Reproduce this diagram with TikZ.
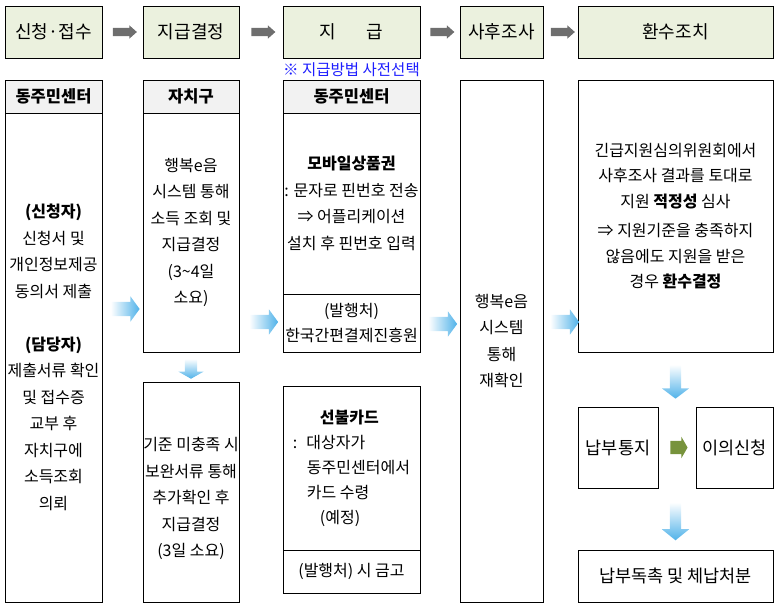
\documentclass[tikz,border=0pt]{standalone}
\usepackage{fontspec}
\setmainfont{Noto Sans CJK KR}
\usetikzlibrary{positioning}
\usetikzlibrary{calc}
\usetikzlibrary{shapes.arrows}
\definecolor{mstep}{RGB}{235,241,222}
\definecolor{mhead}{RGB}{242,242,242}
\definecolor{mgray}{RGB}{110,110,110}
\definecolor{mblue}{RGB}{80,178,233}
\definecolor{mgreen}{RGB}{119,147,60}
\definecolor{mnote}{RGB}{30,30,255}

\begin{document}
\begin{tikzpicture}[x=1pt, y=-1pt,
    box/.style={draw, line width=0.9pt, inner sep=0pt, outer sep=0pt, align=center, font=\fontsize{16}{26.5}\selectfont},
    stepbox/.style={box, fill=mstep, minimum height=52pt, font=\fontsize{18}{22}\selectfont},
    headbox/.style={box, fill=mhead, minimum height=33pt, font=\bfseries\fontsize{16.5}{20}\selectfont},
    grayarrow/.style={single arrow, fill=mgray, inner sep=4pt, minimum height=24pt, single arrow head extend=2.5pt, single arrow tip angle=83},
    bluearrow/.style={single arrow, inner sep=7pt, left color=white, right color=mblue, minimum height=29pt, single arrow head extend=5.5pt, single arrow tip angle=108},
    downarrow/.style={single arrow, shape border rotate=270, inner sep=5.5pt, top color=white, bottom color=mblue, single arrow head extend=8pt, single arrow tip angle=106},
    greenarrow/.style={single arrow, fill=mgreen, inner sep=6.5pt, minimum height=12pt, single arrow head extend=4pt, single arrow tip angle=120},
]
\useasboundingbox (0,0) rectangle (780,610);

% process steps
\node[stepbox, minimum width=97pt] (step1) at (53.5,32) {신청·접수};
\node[stepbox, minimum width=96pt] (step2) at (191,32) {지급결정};
\node[stepbox, minimum width=137pt] (step3) at (351.5,32) {지\hspace{30pt}급};
\node[stepbox, minimum width=83pt] (step4) at (501.5,32) {사후조사};
\node[stepbox, minimum width=195pt] (step5) at (675.5,32) {환수조치};

\node[grayarrow] (flow1) at ($(step1.east)!0.5!(step2.west)$) {};
\node[grayarrow] (flow2) at ($(step2.east)!0.5!(step3.west)$) {};
\node[grayarrow] (flow3) at ($(step3.east)!0.5!(step4.west)$) {};
\node[grayarrow] (flow4) at ($(step4.east)!0.5!(step5.west)$) {};

\node[text=mnote, font=\fontsize{15.5}{18}\selectfont] (note3) at (351.5,70) {※ 지급방법 사전선택};

% column 1
\node[headbox, minimum width=97pt] (head1) at (53.5,96.5) {동주민센터};
\node[box, below=0pt of head1, minimum width=97pt, minimum height=489pt] (apply1) {\textbf{(신청자)}\\신청서 및\\개인정보제공\\동의서 제출\\[26.5pt]\textbf{(담당자)}\\제출서류 확인\\및 접수증\\교부 후\\자치구에\\소득조회\\의뢰};

% column 2
\node[headbox, minimum width=96pt] (head2) at (191,96.5) {자치구};
\node[box, below=0pt of head2, minimum width=96pt, minimum height=239pt] (decide2) {행복e음\\시스템 통해\\소득 조회 및\\지급결정\\(3\textasciitilde 4일\\소요)};
\node[box, minimum width=96pt, minimum height=220pt] (extra2) at (191,492) {\mbox{}\\기준 미충족 시\\보완서류 통해\\추가확인 후\\지급결정\\(3일 소요)};

% column 3
\node[headbox, minimum width=137pt] (head3) at (351.5,96.5) {동주민센터};
\node[box, below=0pt of head3, minimum width=137pt, minimum height=181pt] (pay3) {\textbf{모바일상품권}\\: 문자로 핀번호 전송\\⇒ 어플리케이션\\설치 후 핀번호 입력};
\node[box, below=0pt of pay3, minimum width=137pt, minimum height=58pt, font=\fontsize{16}{25}\selectfont] (issuer3) {(발행처)\\한국간편결제진흥원};
\node[box, align=left, minimum width=137pt, minimum height=164pt, font=\fontsize{16}{25}\selectfont] (card3) at (351.5,468) {\hspace*{27pt}\textbf{선불카드}\\:\hspace{9pt}대상자가\\\hspace*{14pt}동주민센터에서\\\hspace*{14pt}카드 수령\\\hspace*{27pt}(예정)};
\node[box, below=0pt of card3, minimum width=137pt, minimum height=43pt] (bank3) {(발행처) 시 금고};

% column 4
\node[box, minimum width=83pt, minimum height=522pt] (check4) at (501.5,341) {행복e음\\시스템\\통해\\재확인};

% column 5
\node[box, minimum width=195pt, minimum height=272pt, font=\fontsize{16}{25.5}\selectfont] (review5) at (675.5,216) {긴급지원심의위원회에서\\사후조사 결과를 토대로\\지원 \textbf{적정성} 심사\\[4pt]⇒ 지원기준을 충족하지\\않음에도 지원을 받은\\경우 \textbf{환수결정}};
\node[box, minimum width=80pt, minimum height=81pt, font=\fontsize{17.5}{22}\selectfont] (notice5) at (618,447.5) {납부통지};
\node[box, minimum width=77pt, minimum height=81pt, font=\fontsize{17.5}{22}\selectfont] (appeal5) at (734.5,447.5) {이의신청};
\node[box, minimum width=195pt, minimum height=52pt, font=\fontsize{17.5}{22}\selectfont] (collect5) at (675.5,576) {납부독촉 및 체납처분};

% flow between columns
\node[bluearrow] (push1) at ($(apply1.east |- 0,309)!0.5!(decide2.west |- 0,309)$) {};
\node[bluearrow] (push2) at ($(decide2.east |- 0,322)!0.5!(issuer3.west |- 0,322)$) {};
\node[bluearrow] (push3) at ($(issuer3.east |- 0,324)!0.5!(check4.west |- 0,324)$) {};
\node[bluearrow, xshift=1.5pt] (push4) at ($(check4.east |- 0,322)!0.5!(review5.west |- 0,322)$) {};

\node[downarrow, inner sep=6pt, minimum height=20pt, single arrow head extend=6.5pt, single arrow tip angle=121] (down1) at ($(decide2.south)!0.5!(extra2.north)$) {};
\node[downarrow, minimum height=34pt] (down2) at ($(review5.south)!0.5!(review5.south |- notice5.north)$) {};
\node[downarrow, minimum height=38pt, single arrow tip angle=102] (down3) at ($(review5.south |- notice5.south)!0.5!(collect5.north)$) {};
\node[greenarrow] (turn5) at ($(notice5.east)!0.5!(appeal5.west)$) {};
\end{tikzpicture}
\end{document}
